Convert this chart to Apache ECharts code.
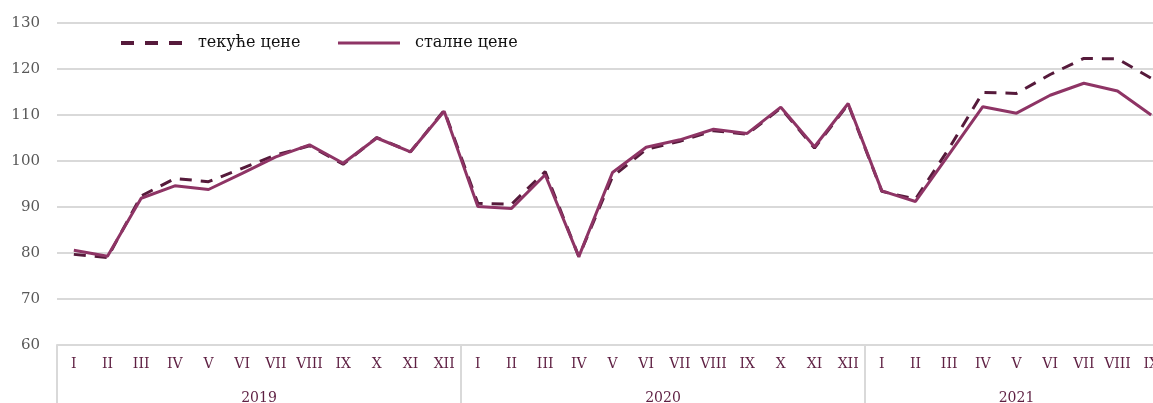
<!DOCTYPE html>
<html>
<head>
<meta charset="utf-8">
<script src="https://cdn.jsdelivr.net/npm/echarts@6/dist/echarts.min.js"></script>
<style>
  html, body { margin: 0; padding: 0; background: #fff; }
  #chart { width: 1153px; height: 403px; }
</style>
</head>
<body>
<div id="chart"></div>
<script>
// months per year, shown on the lower axis line
const romanMonths = ["I", "II", "III", "IV", "V", "VI", "VII", "VIII", "IX", "X", "XI", "XII"];
const years = ["2019", "2020", "2021"];
const yearMonths = [12, 12, 9];

// current prices (dashed)
const tekuce = [
  79.7, 79.0, 92.4, 96.2, 95.5, 98.4, 101.3, 103.3, 99.3, 105.1, 102.0, 111.0,
  90.8, 90.6, 97.7, 79.2, 96.6, 102.5, 104.3, 106.6, 105.8, 111.5, 102.8, 112.3,
  93.4, 91.7, 102.8, 114.9, 114.7, 118.8, 122.3, 122.2, 118.0
];
// constant prices (solid)
const stalne = [
  80.6, 79.3, 91.9, 94.6, 93.8, 97.3, 100.9, 103.5, 99.5, 105.0, 102.0, 110.8,
  90.1, 89.7, 97.0, 79.2, 97.5, 103.0, 104.6, 106.9, 106.0, 111.7, 103.1, 112.5,
  93.5, 91.2, 101.5, 111.8, 110.4, 114.3, 116.9, 115.2, 110.0
];

const yTicks = { min: 60, max: 130, step: 10 };

// build the month category list and the year boundaries
const months = [];
const yearStarts = [];
const yearCenters = [];
let pos = 0;
yearMonths.forEach((n) => {
  yearStarts.push(pos);
  yearCenters.push(pos + n / 2);
  for (let k = 0; k < n; k++) months.push(romanMonths[k]);
  pos += n;
});

const fontFam = "DejaVu Serif";
const chart = echarts.init(document.getElementById("chart"));

const options = {
  animation: false,
  // plot runs past the right edge, last month is cut off like in the original
  grid: { left: 57, width: 1111, top: 23, bottom: 58, containLabel: false, outerBoundsMode: "none" },
  legend: {
    left: 114,
    top: 30,
    itemWidth: 62,
    itemHeight: 14,
    itemGap: 36,
    itemStyle: { opacity: 0 },
    textStyle: { fontFamily: fontFam, fontSize: 16, color: "#111", padding: [0, 0, 0, 10] },
    data: [
      { name: "текуће цене", lineStyle: { width: 4, type: [13, 11] } },
      { name: "сталне цене", lineStyle: { width: 3 } }
    ]
  },
  xAxis: [
    {
      type: "category",
      data: months,
      boundaryGap: true,
      axisLine: { show: false },
      axisTick: { show: false },
      axisLabel: {
        interval: 0,
        margin: 12,
        fontFamily: fontFam,
        fontSize: 14,
        color: "#5e1f42"
      },
      splitLine: { show: false }
    },
    {
      type: "value",
      position: "bottom",
      min: 0,
      max: months.length,
      axisLine: { show: true, lineStyle: { color: "#d9d9d9", width: 2 } },
      axisTick: {
        show: true,
        customValues: yearStarts.concat([months.length]),
        length: 58,
        lineStyle: { color: "#d9d9d9", width: 2 }
      },
      axisLabel: {
        customValues: yearCenters,
        margin: 46,
        fontFamily: fontFam,
        fontSize: 14,
        color: "#5e1f42",
        formatter: (v) => years[yearCenters.indexOf(v)] || ""
      },
      splitLine: { show: false }
    }
  ],
  yAxis: {
    type: "value",
    min: yTicks.min,
    max: yTicks.max,
    interval: yTicks.step,
    axisLine: { show: false },
    axisTick: { show: false },
    axisLabel: { fontFamily: fontFam, fontSize: 15, color: "#595959", margin: 17 },
    splitLine: { lineStyle: { color: "#d9d9d9", width: 2 } }
  },
  series: [
    {
      name: "текуће цене",
      type: "line",
      xAxisIndex: 0,
      data: tekuce,
      symbol: "none",
      itemStyle: { color: "#561a3b" },
      lineStyle: { color: "#561a3b", width: 3, type: [12, 9] }
    },
    {
      name: "сталне цене",
      type: "line",
      xAxisIndex: 0,
      data: stalne,
      symbol: "none",
      itemStyle: { color: "#8e3465" },
      lineStyle: { color: "#8e3465", width: 3 }
    }
  ]
};

chart.setOption(options);
</script>
</body>
</html>
